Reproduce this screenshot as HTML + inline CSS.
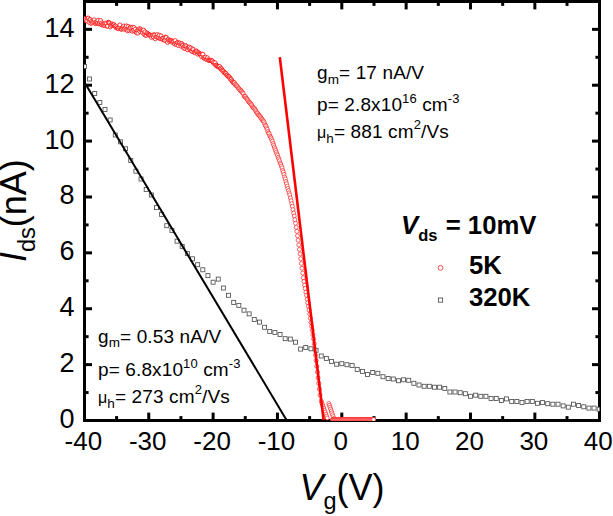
<!DOCTYPE html>
<html><head><meta charset="utf-8"><style>
html,body{margin:0;padding:0;background:#fff;overflow:hidden;}
svg{display:block;}
</style></head><body>
<svg width="613" height="516" viewBox="0 0 613 516">
<rect width="613" height="516" fill="#fff"/>
<g fill="none" stroke="#000" stroke-width="3">
<rect x="84.5" y="1.5" width="515" height="419"/>
<line x1="116.58" y1="420.5" x2="116.58" y2="416.1"/><line x1="116.58" y1="1.5" x2="116.58" y2="5.9"/><line x1="148.75" y1="420.5" x2="148.75" y2="412.6"/><line x1="148.75" y1="1.5" x2="148.75" y2="9.4"/><line x1="180.93" y1="420.5" x2="180.93" y2="416.1"/><line x1="180.93" y1="1.5" x2="180.93" y2="5.9"/><line x1="213.10" y1="420.5" x2="213.10" y2="412.6"/><line x1="213.10" y1="1.5" x2="213.10" y2="9.4"/><line x1="245.28" y1="420.5" x2="245.28" y2="416.1"/><line x1="245.28" y1="1.5" x2="245.28" y2="5.9"/><line x1="277.45" y1="420.5" x2="277.45" y2="412.6"/><line x1="277.45" y1="1.5" x2="277.45" y2="9.4"/><line x1="309.62" y1="420.5" x2="309.62" y2="416.1"/><line x1="309.62" y1="1.5" x2="309.62" y2="5.9"/><line x1="341.80" y1="420.5" x2="341.80" y2="412.6"/><line x1="341.80" y1="1.5" x2="341.80" y2="9.4"/><line x1="373.98" y1="420.5" x2="373.98" y2="416.1"/><line x1="373.98" y1="1.5" x2="373.98" y2="5.9"/><line x1="406.15" y1="420.5" x2="406.15" y2="412.6"/><line x1="406.15" y1="1.5" x2="406.15" y2="9.4"/><line x1="438.32" y1="420.5" x2="438.32" y2="416.1"/><line x1="438.32" y1="1.5" x2="438.32" y2="5.9"/><line x1="470.50" y1="420.5" x2="470.50" y2="412.6"/><line x1="470.50" y1="1.5" x2="470.50" y2="9.4"/><line x1="502.67" y1="420.5" x2="502.67" y2="416.1"/><line x1="502.67" y1="1.5" x2="502.67" y2="5.9"/><line x1="534.85" y1="420.5" x2="534.85" y2="412.6"/><line x1="534.85" y1="1.5" x2="534.85" y2="9.4"/><line x1="567.02" y1="420.5" x2="567.02" y2="416.1"/><line x1="567.02" y1="1.5" x2="567.02" y2="5.9"/><line x1="84.5" y1="392.56" x2="88.6" y2="392.56"/><line x1="599.5" y1="392.56" x2="595.4" y2="392.56"/><line x1="84.5" y1="364.62" x2="92.0" y2="364.62"/><line x1="599.5" y1="364.62" x2="592.0" y2="364.62"/><line x1="84.5" y1="336.68" x2="88.6" y2="336.68"/><line x1="599.5" y1="336.68" x2="595.4" y2="336.68"/><line x1="84.5" y1="308.74" x2="92.0" y2="308.74"/><line x1="599.5" y1="308.74" x2="592.0" y2="308.74"/><line x1="84.5" y1="280.80" x2="88.6" y2="280.80"/><line x1="599.5" y1="280.80" x2="595.4" y2="280.80"/><line x1="84.5" y1="252.86" x2="92.0" y2="252.86"/><line x1="599.5" y1="252.86" x2="592.0" y2="252.86"/><line x1="84.5" y1="224.92" x2="88.6" y2="224.92"/><line x1="599.5" y1="224.92" x2="595.4" y2="224.92"/><line x1="84.5" y1="196.98" x2="92.0" y2="196.98"/><line x1="599.5" y1="196.98" x2="592.0" y2="196.98"/><line x1="84.5" y1="169.04" x2="88.6" y2="169.04"/><line x1="599.5" y1="169.04" x2="595.4" y2="169.04"/><line x1="84.5" y1="141.10" x2="92.0" y2="141.10"/><line x1="599.5" y1="141.10" x2="592.0" y2="141.10"/><line x1="84.5" y1="113.16" x2="88.6" y2="113.16"/><line x1="599.5" y1="113.16" x2="595.4" y2="113.16"/><line x1="84.5" y1="85.22" x2="92.0" y2="85.22"/><line x1="599.5" y1="85.22" x2="592.0" y2="85.22"/><line x1="84.5" y1="57.28" x2="88.6" y2="57.28"/><line x1="599.5" y1="57.28" x2="595.4" y2="57.28"/><line x1="84.5" y1="29.34" x2="92.0" y2="29.34"/><line x1="599.5" y1="29.34" x2="592.0" y2="29.34"/>
</g>
<g font-family="'Liberation Sans', Arial, sans-serif" font-size="26" fill="#000">
<text x="83.40" y="449.5" text-anchor="middle">-40</text><text x="147.75" y="449.5" text-anchor="middle">-30</text><text x="212.10" y="449.5" text-anchor="middle">-20</text><text x="276.45" y="449.5" text-anchor="middle">-10</text><text x="340.80" y="449.5" text-anchor="middle">0</text><text x="405.15" y="449.5" text-anchor="middle">10</text><text x="469.50" y="449.5" text-anchor="middle">20</text><text x="533.85" y="449.5" text-anchor="middle">30</text><text x="598.20" y="449.5" text-anchor="middle">40</text><text x="74.5" y="427.90" text-anchor="end" font-size="27">0</text><text x="74.5" y="372.02" text-anchor="end" font-size="27">2</text><text x="74.5" y="316.14" text-anchor="end" font-size="27">4</text><text x="74.5" y="260.26" text-anchor="end" font-size="27">6</text><text x="74.5" y="204.38" text-anchor="end" font-size="27">8</text><text x="74.5" y="148.50" text-anchor="end" font-size="27">10</text><text x="74.5" y="92.62" text-anchor="end" font-size="27">12</text><text x="74.5" y="36.74" text-anchor="end" font-size="27">14</text>
</g>
<defs><clipPath id="pc"><rect x="84.1" y="1.5" width="515.4" height="419.5"/></clipPath></defs>
<g clip-path="url(#pc)">
<g fill="#fff" stroke="#f00" stroke-width="0.6"><circle cx="84.50" cy="18.49" r="2.0" stroke-width="0.75"/><circle cx="85.14" cy="20.14" r="2.0" stroke-width="0.75"/><circle cx="85.79" cy="19.39" r="2.0" stroke-width="0.75"/><circle cx="86.43" cy="20.68" r="2.0" stroke-width="0.75"/><circle cx="87.07" cy="20.91" r="2.0" stroke-width="0.75"/><circle cx="87.72" cy="18.23" r="2.0" stroke-width="0.75"/><circle cx="88.36" cy="18.09" r="2.0" stroke-width="0.75"/><circle cx="89.00" cy="22.33" r="2.0" stroke-width="0.75"/><circle cx="89.65" cy="19.56" r="2.0" stroke-width="0.75"/><circle cx="90.29" cy="19.55" r="2.0" stroke-width="0.75"/><circle cx="90.94" cy="23.48" r="2.0" stroke-width="0.75"/><circle cx="91.58" cy="20.97" r="2.0" stroke-width="0.75"/><circle cx="92.22" cy="22.93" r="2.0" stroke-width="0.75"/><circle cx="92.87" cy="21.24" r="2.0" stroke-width="0.75"/><circle cx="93.51" cy="22.18" r="2.0" stroke-width="0.75"/><circle cx="94.15" cy="19.86" r="2.0" stroke-width="0.75"/><circle cx="94.80" cy="22.40" r="2.0" stroke-width="0.75"/><circle cx="95.44" cy="23.68" r="2.0" stroke-width="0.75"/><circle cx="96.08" cy="22.08" r="2.0" stroke-width="0.75"/><circle cx="96.73" cy="23.29" r="2.0" stroke-width="0.75"/><circle cx="97.37" cy="23.06" r="2.0" stroke-width="0.75"/><circle cx="98.01" cy="20.15" r="2.0" stroke-width="0.75"/><circle cx="98.66" cy="23.74" r="2.0" stroke-width="0.75"/><circle cx="99.30" cy="23.02" r="2.0" stroke-width="0.75"/><circle cx="99.94" cy="21.69" r="2.0" stroke-width="0.75"/><circle cx="100.59" cy="20.46" r="2.0" stroke-width="0.75"/><circle cx="101.23" cy="24.75" r="2.0" stroke-width="0.75"/><circle cx="101.87" cy="22.91" r="2.0" stroke-width="0.75"/><circle cx="102.52" cy="24.26" r="2.0" stroke-width="0.75"/><circle cx="103.16" cy="25.18" r="2.0" stroke-width="0.75"/><circle cx="103.81" cy="24.48" r="2.0" stroke-width="0.75"/><circle cx="104.45" cy="25.63" r="2.0" stroke-width="0.75"/><circle cx="105.09" cy="23.12" r="2.0" stroke-width="0.75"/><circle cx="105.74" cy="25.27" r="2.0" stroke-width="0.75"/><circle cx="106.38" cy="23.61" r="2.0" stroke-width="0.75"/><circle cx="107.02" cy="26.19" r="2.0" stroke-width="0.75"/><circle cx="107.67" cy="26.02" r="2.0" stroke-width="0.75"/><circle cx="108.31" cy="22.24" r="2.0" stroke-width="0.75"/><circle cx="108.95" cy="22.55" r="2.0" stroke-width="0.75"/><circle cx="109.60" cy="23.07" r="2.0" stroke-width="0.75"/><circle cx="110.24" cy="26.94" r="2.0" stroke-width="0.75"/><circle cx="110.88" cy="24.41" r="2.0" stroke-width="0.75"/><circle cx="111.53" cy="25.48" r="2.0" stroke-width="0.75"/><circle cx="112.17" cy="23.98" r="2.0" stroke-width="0.75"/><circle cx="112.81" cy="25.13" r="2.0" stroke-width="0.75"/><circle cx="113.46" cy="24.64" r="2.0" stroke-width="0.75"/><circle cx="114.10" cy="24.61" r="2.0" stroke-width="0.75"/><circle cx="114.74" cy="25.92" r="2.0" stroke-width="0.75"/><circle cx="115.39" cy="26.06" r="2.0" stroke-width="0.75"/><circle cx="116.03" cy="27.80" r="2.0" stroke-width="0.75"/><circle cx="116.68" cy="26.84" r="2.0" stroke-width="0.75"/><circle cx="117.32" cy="28.21" r="2.0" stroke-width="0.75"/><circle cx="117.96" cy="27.99" r="2.0" stroke-width="0.75"/><circle cx="118.61" cy="28.81" r="2.0" stroke-width="0.75"/><circle cx="119.25" cy="27.35" r="2.0" stroke-width="0.75"/><circle cx="119.89" cy="24.96" r="2.0" stroke-width="0.75"/><circle cx="120.54" cy="28.59" r="2.0" stroke-width="0.75"/><circle cx="121.18" cy="29.25" r="2.0" stroke-width="0.75"/><circle cx="121.82" cy="29.09" r="2.0" stroke-width="0.75"/><circle cx="122.47" cy="27.56" r="2.0" stroke-width="0.75"/><circle cx="123.11" cy="28.42" r="2.0" stroke-width="0.75"/><circle cx="123.75" cy="26.05" r="2.0" stroke-width="0.75"/><circle cx="124.40" cy="29.30" r="2.0" stroke-width="0.75"/><circle cx="125.04" cy="28.15" r="2.0" stroke-width="0.75"/><circle cx="125.68" cy="26.85" r="2.0" stroke-width="0.75"/><circle cx="126.33" cy="25.88" r="2.0" stroke-width="0.75"/><circle cx="126.97" cy="29.98" r="2.0" stroke-width="0.75"/><circle cx="127.61" cy="30.80" r="2.0" stroke-width="0.75"/><circle cx="128.26" cy="26.44" r="2.0" stroke-width="0.75"/><circle cx="128.90" cy="30.14" r="2.0" stroke-width="0.75"/><circle cx="129.55" cy="28.33" r="2.0" stroke-width="0.75"/><circle cx="130.19" cy="27.18" r="2.0" stroke-width="0.75"/><circle cx="130.83" cy="28.04" r="2.0" stroke-width="0.75"/><circle cx="131.48" cy="30.55" r="2.0" stroke-width="0.75"/><circle cx="132.12" cy="31.22" r="2.0" stroke-width="0.75"/><circle cx="132.76" cy="27.22" r="2.0" stroke-width="0.75"/><circle cx="133.41" cy="30.21" r="2.0" stroke-width="0.75"/><circle cx="134.05" cy="27.50" r="2.0" stroke-width="0.75"/><circle cx="134.69" cy="31.02" r="2.0" stroke-width="0.75"/><circle cx="135.34" cy="29.22" r="2.0" stroke-width="0.75"/><circle cx="135.98" cy="32.11" r="2.0" stroke-width="0.75"/><circle cx="136.62" cy="32.75" r="2.0" stroke-width="0.75"/><circle cx="137.27" cy="30.52" r="2.0" stroke-width="0.75"/><circle cx="137.91" cy="33.13" r="2.0" stroke-width="0.75"/><circle cx="138.55" cy="29.83" r="2.0" stroke-width="0.75"/><circle cx="139.20" cy="28.81" r="2.0" stroke-width="0.75"/><circle cx="139.84" cy="31.56" r="2.0" stroke-width="0.75"/><circle cx="140.48" cy="28.93" r="2.0" stroke-width="0.75"/><circle cx="141.13" cy="29.99" r="2.0" stroke-width="0.75"/><circle cx="141.77" cy="31.27" r="2.0" stroke-width="0.75"/><circle cx="142.41" cy="32.51" r="2.0" stroke-width="0.75"/><circle cx="143.06" cy="30.46" r="2.0" stroke-width="0.75"/><circle cx="143.70" cy="30.12" r="2.0" stroke-width="0.75"/><circle cx="144.35" cy="34.48" r="2.0" stroke-width="0.75"/><circle cx="144.99" cy="31.93" r="2.0" stroke-width="0.75"/><circle cx="145.63" cy="35.39" r="2.0" stroke-width="0.75"/><circle cx="146.28" cy="35.30" r="2.0" stroke-width="0.75"/><circle cx="146.92" cy="32.94" r="2.0" stroke-width="0.75"/><circle cx="147.56" cy="33.58" r="2.0" stroke-width="0.75"/><circle cx="148.21" cy="34.10" r="2.0" stroke-width="0.75"/><circle cx="148.85" cy="34.95" r="2.0" stroke-width="0.75"/><circle cx="149.49" cy="34.94" r="2.0" stroke-width="0.75"/><circle cx="150.14" cy="34.98" r="2.0" stroke-width="0.75"/><circle cx="150.78" cy="35.52" r="2.0" stroke-width="0.75"/><circle cx="151.42" cy="37.35" r="2.0" stroke-width="0.75"/><circle cx="152.07" cy="35.41" r="2.0" stroke-width="0.75"/><circle cx="152.71" cy="35.25" r="2.0" stroke-width="0.75"/><circle cx="153.35" cy="36.91" r="2.0" stroke-width="0.75"/><circle cx="154.00" cy="34.69" r="2.0" stroke-width="0.75"/><circle cx="154.64" cy="35.19" r="2.0" stroke-width="0.75"/><circle cx="155.28" cy="38.77" r="2.0" stroke-width="0.75"/><circle cx="155.93" cy="36.68" r="2.0" stroke-width="0.75"/><circle cx="156.57" cy="37.01" r="2.0" stroke-width="0.75"/><circle cx="157.22" cy="34.51" r="2.0" stroke-width="0.75"/><circle cx="157.86" cy="36.72" r="2.0" stroke-width="0.75"/><circle cx="158.50" cy="37.74" r="2.0" stroke-width="0.75"/><circle cx="159.15" cy="35.13" r="2.0" stroke-width="0.75"/><circle cx="159.79" cy="38.30" r="2.0" stroke-width="0.75"/><circle cx="160.43" cy="38.57" r="2.0" stroke-width="0.75"/><circle cx="161.08" cy="35.90" r="2.0" stroke-width="0.75"/><circle cx="161.72" cy="38.93" r="2.0" stroke-width="0.75"/><circle cx="162.36" cy="38.32" r="2.0" stroke-width="0.75"/><circle cx="163.01" cy="39.58" r="2.0" stroke-width="0.75"/><circle cx="163.65" cy="38.13" r="2.0" stroke-width="0.75"/><circle cx="164.29" cy="40.10" r="2.0" stroke-width="0.75"/><circle cx="164.94" cy="40.44" r="2.0" stroke-width="0.75"/><circle cx="165.58" cy="37.06" r="2.0" stroke-width="0.75"/><circle cx="166.22" cy="37.45" r="2.0" stroke-width="0.75"/><circle cx="166.87" cy="40.76" r="2.0" stroke-width="0.75"/><circle cx="167.51" cy="42.43" r="2.0" stroke-width="0.75"/><circle cx="168.15" cy="39.11" r="2.0" stroke-width="0.75"/><circle cx="168.80" cy="40.37" r="2.0" stroke-width="0.75"/><circle cx="169.44" cy="41.29" r="2.0" stroke-width="0.75"/><circle cx="170.09" cy="40.16" r="2.0" stroke-width="0.75"/><circle cx="170.73" cy="40.62" r="2.0" stroke-width="0.75"/><circle cx="171.37" cy="40.60" r="2.0" stroke-width="0.75"/><circle cx="172.02" cy="41.11" r="2.0" stroke-width="0.75"/><circle cx="172.66" cy="42.48" r="2.0" stroke-width="0.75"/><circle cx="173.30" cy="41.24" r="2.0" stroke-width="0.75"/><circle cx="173.95" cy="41.86" r="2.0" stroke-width="0.75"/><circle cx="174.59" cy="44.07" r="2.0" stroke-width="0.75"/><circle cx="175.23" cy="40.58" r="2.0" stroke-width="0.75"/><circle cx="175.88" cy="43.53" r="2.0" stroke-width="0.75"/><circle cx="176.52" cy="44.59" r="2.0" stroke-width="0.75"/><circle cx="177.16" cy="42.70" r="2.0" stroke-width="0.75"/><circle cx="177.81" cy="42.50" r="2.0" stroke-width="0.75"/><circle cx="178.45" cy="45.64" r="2.0" stroke-width="0.75"/><circle cx="179.09" cy="43.05" r="2.0" stroke-width="0.75"/><circle cx="179.74" cy="43.07" r="2.0" stroke-width="0.75"/><circle cx="180.38" cy="44.59" r="2.0" stroke-width="0.75"/><circle cx="181.02" cy="46.18" r="2.0" stroke-width="0.75"/><circle cx="181.67" cy="43.47" r="2.0" stroke-width="0.75"/><circle cx="182.31" cy="44.85" r="2.0" stroke-width="0.75"/><circle cx="182.96" cy="45.19" r="2.0" stroke-width="0.75"/><circle cx="183.60" cy="47.96" r="2.0" stroke-width="0.75"/><circle cx="184.24" cy="46.26" r="2.0" stroke-width="0.75"/><circle cx="184.89" cy="48.63" r="2.0" stroke-width="0.75"/><circle cx="185.53" cy="45.49" r="2.0" stroke-width="0.75"/><circle cx="186.17" cy="46.60" r="2.0" stroke-width="0.75"/><circle cx="186.82" cy="48.41" r="2.0" stroke-width="0.75"/><circle cx="187.46" cy="49.80" r="2.0" stroke-width="0.75"/><circle cx="188.10" cy="48.00" r="2.0" stroke-width="0.75"/><circle cx="188.75" cy="47.23" r="2.0" stroke-width="0.75"/><circle cx="189.39" cy="47.04" r="2.0" stroke-width="0.75"/><circle cx="190.03" cy="49.20" r="2.0" stroke-width="0.75"/><circle cx="190.68" cy="47.96" r="2.0" stroke-width="0.75"/><circle cx="191.32" cy="50.98" r="2.0" stroke-width="0.75"/><circle cx="191.96" cy="51.38" r="2.0" stroke-width="0.75"/><circle cx="192.61" cy="48.86" r="2.0" stroke-width="0.75"/><circle cx="193.25" cy="49.64" r="2.0" stroke-width="0.75"/><circle cx="193.89" cy="52.22" r="2.0" stroke-width="0.75"/><circle cx="194.54" cy="51.87" r="2.0" stroke-width="0.75"/><circle cx="195.18" cy="52.89" r="2.0" stroke-width="0.75"/><circle cx="195.83" cy="51.37" r="2.0" stroke-width="0.75"/><circle cx="196.47" cy="50.88" r="2.0" stroke-width="0.75"/><circle cx="197.11" cy="51.89" r="2.0" stroke-width="0.75"/><circle cx="197.76" cy="54.19" r="2.0" stroke-width="0.75"/><circle cx="198.40" cy="52.54" r="2.0" stroke-width="0.75"/><circle cx="199.04" cy="53.19" r="2.0" stroke-width="0.75"/><circle cx="199.69" cy="53.81" r="2.0" stroke-width="0.75"/><circle cx="200.33" cy="54.18" r="2.0" stroke-width="0.75"/><circle cx="200.97" cy="54.50" r="2.0" stroke-width="0.75"/><circle cx="201.62" cy="56.65" r="2.0" stroke-width="0.75"/><circle cx="202.26" cy="54.34" r="2.0" stroke-width="0.75"/><circle cx="202.90" cy="54.20" r="2.0" stroke-width="0.75"/><circle cx="203.55" cy="57.71" r="2.0" stroke-width="0.75"/><circle cx="204.19" cy="57.83" r="2.0" stroke-width="0.75"/><circle cx="204.83" cy="58.51" r="2.0" stroke-width="0.75"/><circle cx="205.48" cy="57.11" r="2.0" stroke-width="0.75"/><circle cx="206.12" cy="59.15" r="2.0" stroke-width="0.75"/><circle cx="206.76" cy="59.49" r="2.0" stroke-width="0.75"/><circle cx="207.41" cy="57.80" r="2.0" stroke-width="0.75"/><circle cx="208.05" cy="59.78" r="2.0" stroke-width="0.75"/><circle cx="208.70" cy="60.46" r="2.0" stroke-width="0.75"/><circle cx="209.34" cy="60.39" r="2.0" stroke-width="0.75"/><circle cx="209.98" cy="60.42" r="2.0" stroke-width="0.75"/><circle cx="210.63" cy="60.24" r="2.0" stroke-width="0.75"/><circle cx="211.27" cy="60.82" r="2.0" stroke-width="0.75"/><circle cx="211.91" cy="60.97" r="2.0" stroke-width="0.75"/><circle cx="212.56" cy="61.02" r="2.0" stroke-width="0.75"/><circle cx="213.20" cy="62.77" r="2.0" stroke-width="0.75"/><circle cx="213.84" cy="62.47" r="2.0" stroke-width="0.75"/><circle cx="214.49" cy="64.15" r="2.0" stroke-width="0.75"/><circle cx="215.13" cy="62.81" r="2.0" stroke-width="0.75"/><circle cx="215.77" cy="65.19" r="2.0" stroke-width="0.75"/><circle cx="216.42" cy="65.15" r="2.0" stroke-width="0.75"/><circle cx="217.06" cy="66.06" r="2.0" stroke-width="0.75"/><circle cx="217.70" cy="66.41" r="2.0" stroke-width="0.75"/><circle cx="218.35" cy="66.85" r="2.0" stroke-width="0.75"/><circle cx="218.99" cy="66.86" r="2.0" stroke-width="0.75"/><circle cx="219.63" cy="66.46" r="2.0" stroke-width="0.75"/><circle cx="220.28" cy="68.48" r="2.0" stroke-width="0.75"/><circle cx="220.92" cy="68.12" r="2.0" stroke-width="0.75"/><circle cx="221.57" cy="69.02" r="2.0" stroke-width="0.75"/><circle cx="222.21" cy="70.29" r="2.0" stroke-width="0.75"/><circle cx="222.85" cy="70.72" r="2.0" stroke-width="0.75"/><circle cx="223.50" cy="71.21" r="2.0" stroke-width="0.75"/><circle cx="224.14" cy="72.66" r="2.0" stroke-width="0.75"/><circle cx="224.78" cy="72.83" r="2.0" stroke-width="0.75"/><circle cx="225.43" cy="73.11" r="2.0" stroke-width="0.75"/><circle cx="226.07" cy="73.65" r="2.0" stroke-width="0.75"/><circle cx="226.71" cy="75.16" r="2.0" stroke-width="0.75"/><circle cx="227.36" cy="75.28" r="2.0" stroke-width="0.75"/><circle cx="228.00" cy="76.37" r="2.0" stroke-width="0.75"/><circle cx="228.64" cy="76.43" r="2.0" stroke-width="0.75"/><circle cx="229.29" cy="76.95" r="2.0" stroke-width="0.75"/><circle cx="229.93" cy="78.17" r="2.0" stroke-width="0.75"/><circle cx="230.57" cy="79.32" r="2.0" stroke-width="0.75"/><circle cx="231.22" cy="79.17" r="2.0" stroke-width="0.75"/><circle cx="231.86" cy="80.80" r="2.0" stroke-width="0.75"/><circle cx="232.50" cy="81.73" r="2.0" stroke-width="0.75"/><circle cx="233.15" cy="82.33" r="2.0" stroke-width="0.75"/><circle cx="233.79" cy="83.11" r="2.0" stroke-width="0.75"/><circle cx="234.44" cy="82.72" r="2.0" stroke-width="0.75"/><circle cx="235.08" cy="84.34" r="2.0"/><circle cx="235.72" cy="85.42" r="2.0"/><circle cx="236.37" cy="85.04" r="2.0"/><circle cx="237.01" cy="86.10" r="2.0"/><circle cx="237.65" cy="86.86" r="2.0"/><circle cx="238.30" cy="87.97" r="2.0"/><circle cx="238.94" cy="88.58" r="2.0"/><circle cx="239.58" cy="89.40" r="2.0"/><circle cx="240.23" cy="90.58" r="2.0"/><circle cx="240.87" cy="90.33" r="2.0"/><circle cx="241.51" cy="91.27" r="2.0"/><circle cx="242.16" cy="92.23" r="2.0"/><circle cx="242.80" cy="93.08" r="2.0"/><circle cx="243.44" cy="93.86" r="2.0"/><circle cx="244.09" cy="95.99" r="2.0"/><circle cx="244.73" cy="96.68" r="2.0"/><circle cx="245.37" cy="96.47" r="2.0"/><circle cx="246.02" cy="97.91" r="2.0"/><circle cx="246.66" cy="98.51" r="2.0"/><circle cx="247.31" cy="99.37" r="2.0"/><circle cx="247.95" cy="100.28" r="2.0"/><circle cx="248.59" cy="101.55" r="2.0"/><circle cx="249.24" cy="102.33" r="2.0"/><circle cx="249.88" cy="102.87" r="2.0"/><circle cx="250.52" cy="103.49" r="2.0"/><circle cx="251.17" cy="104.55" r="2.0"/><circle cx="251.81" cy="105.12" r="2.0"/><circle cx="252.45" cy="106.58" r="2.0"/><circle cx="253.10" cy="107.67" r="2.0"/><circle cx="253.74" cy="108.06" r="2.0"/><circle cx="254.38" cy="108.50" r="2.0"/><circle cx="255.03" cy="109.50" r="2.0"/><circle cx="255.67" cy="110.63" r="2.0"/><circle cx="256.31" cy="111.81" r="2.0"/><circle cx="256.96" cy="112.92" r="2.0"/><circle cx="257.60" cy="113.22" r="2.0"/><circle cx="258.24" cy="114.67" r="2.0"/><circle cx="258.89" cy="115.28" r="2.0"/><circle cx="259.53" cy="115.87" r="2.0"/><circle cx="260.18" cy="116.65" r="2.0"/><circle cx="260.82" cy="117.68" r="2.0"/><circle cx="261.46" cy="118.83" r="2.0"/><circle cx="262.11" cy="119.29" r="2.0"/><circle cx="262.75" cy="120.54" r="2.0"/><circle cx="263.39" cy="121.07" r="2.0"/><circle cx="264.04" cy="122.02" r="2.0"/><circle cx="264.68" cy="123.86" r="2.0"/><circle cx="265.32" cy="125.51" r="2.0"/><circle cx="265.97" cy="126.07" r="2.0"/><circle cx="266.61" cy="128.00" r="2.0"/><circle cx="267.25" cy="129.44" r="2.0"/><circle cx="267.90" cy="131.51" r="2.0"/><circle cx="268.54" cy="133.02" r="2.0"/><circle cx="269.18" cy="133.67" r="2.0"/><circle cx="269.83" cy="135.83" r="2.0"/><circle cx="270.47" cy="136.88" r="2.0"/><circle cx="271.11" cy="138.00" r="2.0"/><circle cx="271.76" cy="139.69" r="2.0"/><circle cx="272.40" cy="141.25" r="2.0"/><circle cx="273.05" cy="143.43" r="2.0"/><circle cx="273.69" cy="145.11" r="2.0"/><circle cx="274.33" cy="147.01" r="2.0"/><circle cx="274.98" cy="148.72" r="2.0"/><circle cx="275.62" cy="150.41" r="2.0"/><circle cx="276.26" cy="152.22" r="2.0"/><circle cx="276.91" cy="153.88" r="2.0"/><circle cx="277.55" cy="155.38" r="2.0"/><circle cx="278.19" cy="157.46" r="2.0"/><circle cx="278.84" cy="158.89" r="2.0"/><circle cx="279.48" cy="160.76" r="2.0"/><circle cx="280.12" cy="162.93" r="2.0"/><circle cx="280.77" cy="164.27" r="2.0"/><circle cx="281.41" cy="166.09" r="2.0"/><circle cx="282.05" cy="167.88" r="2.0"/><circle cx="282.70" cy="170.41" r="2.0"/><circle cx="283.34" cy="172.21" r="2.0"/><circle cx="283.98" cy="174.35" r="2.0"/><circle cx="284.63" cy="177.07" r="2.0"/><circle cx="285.27" cy="178.86" r="2.0"/><circle cx="285.92" cy="181.52" r="2.0"/><circle cx="286.56" cy="183.69" r="2.0"/><circle cx="287.20" cy="186.09" r="2.0"/><circle cx="287.85" cy="188.46" r="2.0"/><circle cx="288.49" cy="190.54" r="2.0"/><circle cx="289.13" cy="192.98" r="2.0"/><circle cx="289.78" cy="194.82" r="2.0"/><circle cx="290.42" cy="197.96" r="2.0"/><circle cx="291.06" cy="200.73" r="2.0"/><circle cx="291.71" cy="203.77" r="2.0"/><circle cx="292.35" cy="206.32" r="2.0"/><circle cx="292.99" cy="209.62" r="2.0"/><circle cx="293.64" cy="213.17" r="2.0"/><circle cx="294.28" cy="216.08" r="2.0"/><circle cx="294.92" cy="219.68" r="2.0"/><circle cx="295.57" cy="223.26" r="2.0"/><circle cx="296.21" cy="227.33" r="2.0"/><circle cx="296.85" cy="231.39" r="2.0"/><circle cx="297.50" cy="235.77" r="2.0"/><circle cx="298.14" cy="240.22" r="2.0"/><circle cx="298.79" cy="244.86" r="2.0"/><circle cx="299.43" cy="249.37" r="2.0"/><circle cx="300.07" cy="253.94" r="2.0"/><circle cx="300.72" cy="258.71" r="2.0"/><circle cx="301.36" cy="263.51" r="2.0"/><circle cx="302.00" cy="268.27" r="2.0"/><circle cx="302.65" cy="273.09" r="2.0"/><circle cx="303.29" cy="277.68" r="2.0"/><circle cx="303.93" cy="281.47" r="2.0"/><circle cx="304.58" cy="285.27" r="2.0"/><circle cx="305.22" cy="288.46" r="2.0"/><circle cx="305.86" cy="292.18" r="2.0"/><circle cx="306.51" cy="295.35" r="2.0"/><circle cx="307.15" cy="299.19" r="2.0"/><circle cx="307.79" cy="302.75" r="2.0"/><circle cx="308.44" cy="306.22" r="2.0"/><circle cx="309.08" cy="310.07" r="2.0"/><circle cx="309.72" cy="314.13" r="2.0"/><circle cx="310.37" cy="318.31" r="2.0"/><circle cx="311.01" cy="322.55" r="2.0"/><circle cx="311.66" cy="326.18" r="2.0"/><circle cx="312.30" cy="330.23" r="2.0"/><circle cx="312.94" cy="334.71" r="2.0"/><circle cx="313.59" cy="338.89" r="2.0"/><circle cx="314.23" cy="343.80" r="2.0"/><circle cx="314.87" cy="349.43" r="2.0"/><circle cx="315.52" cy="355.28" r="2.0"/><circle cx="316.16" cy="360.64" r="2.0"/><circle cx="316.80" cy="366.36" r="2.0"/><circle cx="317.45" cy="372.00" r="2.0"/><circle cx="318.09" cy="377.91" r="2.0"/><circle cx="318.73" cy="383.42" r="2.0"/><circle cx="319.38" cy="389.05" r="2.0"/><circle cx="320.02" cy="395.01" r="2.0"/><circle cx="321.20" cy="401.00" r="2.0"/><circle cx="321.87" cy="402.89" r="2.0"/><circle cx="322.53" cy="404.78" r="2.0"/><circle cx="323.20" cy="406.67" r="2.0"/><circle cx="323.87" cy="408.56" r="2.0"/><circle cx="324.53" cy="410.44" r="2.0"/><circle cx="325.20" cy="412.33" r="2.0"/><circle cx="325.87" cy="414.22" r="2.0"/><circle cx="326.53" cy="416.11" r="2.0"/><circle cx="327.20" cy="418.00" r="2.0"/><circle cx="328.80" cy="403.50" r="2.0"/><circle cx="329.43" cy="405.38" r="2.0"/><circle cx="330.05" cy="407.25" r="2.0"/><circle cx="330.68" cy="409.12" r="2.0"/><circle cx="331.30" cy="411.00" r="2.0"/><circle cx="331.93" cy="412.88" r="2.0"/><circle cx="332.55" cy="414.75" r="2.0"/><circle cx="333.18" cy="416.62" r="2.0"/><circle cx="333.80" cy="418.50" r="2.0"/><circle cx="332.50" cy="419.50" r="2.0"/><circle cx="333.14" cy="419.50" r="2.0"/><circle cx="333.79" cy="419.50" r="2.0"/><circle cx="334.43" cy="419.50" r="2.0"/><circle cx="335.07" cy="419.50" r="2.0"/><circle cx="335.72" cy="419.50" r="2.0"/><circle cx="336.36" cy="419.50" r="2.0"/><circle cx="337.00" cy="419.50" r="2.0"/><circle cx="337.65" cy="419.50" r="2.0"/><circle cx="338.29" cy="419.50" r="2.0"/><circle cx="338.94" cy="419.50" r="2.0"/><circle cx="339.58" cy="419.50" r="2.0"/><circle cx="340.22" cy="419.50" r="2.0"/><circle cx="340.87" cy="419.50" r="2.0"/><circle cx="341.51" cy="419.50" r="2.0"/><circle cx="342.15" cy="419.50" r="2.0"/><circle cx="342.80" cy="419.50" r="2.0"/><circle cx="343.44" cy="419.50" r="2.0"/><circle cx="344.08" cy="419.50" r="2.0"/><circle cx="344.73" cy="419.50" r="2.0"/><circle cx="345.37" cy="419.50" r="2.0"/><circle cx="346.01" cy="419.50" r="2.0"/><circle cx="346.66" cy="419.50" r="2.0"/><circle cx="347.30" cy="419.50" r="2.0"/><circle cx="347.94" cy="419.50" r="2.0"/><circle cx="348.59" cy="419.50" r="2.0"/><circle cx="349.23" cy="419.50" r="2.0"/><circle cx="349.87" cy="419.50" r="2.0"/><circle cx="350.52" cy="419.50" r="2.0"/><circle cx="351.16" cy="419.50" r="2.0"/><circle cx="351.81" cy="419.50" r="2.0"/><circle cx="352.45" cy="419.50" r="2.0"/><circle cx="353.09" cy="419.50" r="2.0"/><circle cx="353.74" cy="419.50" r="2.0"/><circle cx="354.38" cy="419.50" r="2.0"/><circle cx="355.02" cy="419.50" r="2.0"/><circle cx="355.67" cy="419.50" r="2.0"/><circle cx="356.31" cy="419.50" r="2.0"/><circle cx="356.95" cy="419.50" r="2.0"/><circle cx="357.60" cy="419.50" r="2.0"/><circle cx="358.24" cy="419.50" r="2.0"/><circle cx="358.88" cy="419.50" r="2.0"/><circle cx="359.53" cy="419.50" r="2.0"/><circle cx="360.17" cy="419.50" r="2.0"/><circle cx="360.81" cy="419.50" r="2.0"/><circle cx="361.46" cy="419.50" r="2.0"/><circle cx="362.10" cy="419.50" r="2.0"/><circle cx="362.74" cy="419.50" r="2.0"/><circle cx="363.39" cy="419.50" r="2.0"/><circle cx="364.03" cy="419.50" r="2.0"/><circle cx="364.68" cy="419.50" r="2.0"/><circle cx="365.32" cy="419.50" r="2.0"/><circle cx="365.96" cy="419.50" r="2.0"/><circle cx="366.61" cy="419.50" r="2.0"/><circle cx="367.25" cy="419.50" r="2.0"/><circle cx="367.89" cy="419.50" r="2.0"/><circle cx="368.54" cy="419.50" r="2.0"/><circle cx="369.18" cy="419.50" r="2.0"/><circle cx="369.82" cy="419.50" r="2.0"/><circle cx="370.47" cy="419.50" r="2.0"/><circle cx="371.11" cy="419.50" r="2.0"/><circle cx="371.75" cy="419.50" r="2.0"/><circle cx="372.40" cy="419.50" r="2.0"/><circle cx="373.04" cy="419.50" r="2.0"/><circle cx="373.68" cy="419.50" r="2.0"/></g>
<g fill="#fff" stroke="#505050" stroke-width="0.85"><rect x="82.40" y="64.50" width="4.0" height="4.0"/><rect x="87.55" y="77.00" width="4.0" height="4.0"/><rect x="92.70" y="91.50" width="4.0" height="4.0"/><rect x="97.84" y="100.50" width="4.0" height="4.0"/><rect x="102.99" y="107.50" width="4.0" height="4.0"/><rect x="108.14" y="118.00" width="4.0" height="4.0"/><rect x="113.29" y="133.00" width="4.0" height="4.0"/><rect x="118.44" y="139.80" width="4.0" height="4.0"/><rect x="123.58" y="146.80" width="4.0" height="4.0"/><rect x="128.73" y="158.40" width="4.0" height="4.0"/><rect x="133.88" y="169.20" width="4.0" height="4.0"/><rect x="139.03" y="177.00" width="4.0" height="4.0"/><rect x="144.18" y="187.50" width="4.0" height="4.0"/><rect x="149.32" y="193.00" width="4.0" height="4.0"/><rect x="154.47" y="205.60" width="4.0" height="4.0"/><rect x="159.62" y="212.40" width="4.0" height="4.0"/><rect x="164.77" y="223.70" width="4.0" height="4.0"/><rect x="169.92" y="228.40" width="4.0" height="4.0"/><rect x="175.06" y="239.20" width="4.0" height="4.0"/><rect x="180.21" y="244.40" width="4.0" height="4.0"/><rect x="185.36" y="251.60" width="4.0" height="4.0"/><rect x="190.51" y="256.80" width="4.0" height="4.0"/><rect x="195.66" y="262.70" width="4.0" height="4.0"/><rect x="200.80" y="267.80" width="4.0" height="4.0"/><rect x="205.95" y="273.60" width="4.0" height="4.0"/><rect x="211.10" y="280.20" width="4.0" height="4.0"/><rect x="216.25" y="277.10" width="4.0" height="4.0"/><rect x="221.40" y="286.00" width="4.0" height="4.0"/><rect x="226.54" y="293.30" width="4.0" height="4.0"/><rect x="231.69" y="300.40" width="4.0" height="4.0"/><rect x="236.84" y="303.50" width="4.0" height="4.0"/><rect x="241.99" y="308.20" width="4.0" height="4.0"/><rect x="247.14" y="311.90" width="4.0" height="4.0"/><rect x="252.28" y="317.50" width="4.0" height="4.0"/><rect x="257.43" y="320.10" width="4.0" height="4.0"/><rect x="262.58" y="325.30" width="4.0" height="4.0"/><rect x="267.73" y="329.40" width="4.0" height="4.0"/><rect x="272.88" y="330.50" width="4.0" height="4.0"/><rect x="278.02" y="332.50" width="4.0" height="4.0"/><rect x="283.17" y="336.70" width="4.0" height="4.0"/><rect x="288.32" y="337.10" width="4.0" height="4.0"/><rect x="293.47" y="340.20" width="4.0" height="4.0"/><rect x="298.62" y="347.10" width="4.0" height="4.0"/><rect x="303.76" y="345.50" width="4.0" height="4.0"/><rect x="308.91" y="346.80" width="4.0" height="4.0"/><rect x="314.06" y="348.30" width="4.0" height="4.0"/><rect x="319.21" y="354.00" width="4.0" height="4.0"/><rect x="324.36" y="356.40" width="4.0" height="4.0"/><rect x="329.50" y="359.50" width="4.0" height="4.0"/><rect x="334.65" y="362.20" width="4.0" height="4.0"/><rect x="339.80" y="361.70" width="4.0" height="4.0"/><rect x="344.95" y="362.70" width="4.0" height="4.0"/><rect x="350.10" y="363.50" width="4.0" height="4.0"/><rect x="355.24" y="367.40" width="4.0" height="4.0"/><rect x="360.39" y="369.40" width="4.0" height="4.0"/><rect x="365.54" y="372.50" width="4.0" height="4.0"/><rect x="370.69" y="370.50" width="4.0" height="4.0"/><rect x="375.84" y="371.30" width="4.0" height="4.0"/><rect x="380.98" y="374.70" width="4.0" height="4.0"/><rect x="386.13" y="376.50" width="4.0" height="4.0"/><rect x="391.28" y="377.00" width="4.0" height="4.0"/><rect x="396.43" y="378.70" width="4.0" height="4.0"/><rect x="401.58" y="377.80" width="4.0" height="4.0"/><rect x="406.72" y="378.30" width="4.0" height="4.0"/><rect x="411.87" y="381.30" width="4.0" height="4.0"/><rect x="417.02" y="383.00" width="4.0" height="4.0"/><rect x="422.17" y="384.30" width="4.0" height="4.0"/><rect x="427.32" y="384.30" width="4.0" height="4.0"/><rect x="432.46" y="385.20" width="4.0" height="4.0"/><rect x="437.61" y="385.20" width="4.0" height="4.0"/><rect x="442.76" y="386.50" width="4.0" height="4.0"/><rect x="447.91" y="390.00" width="4.0" height="4.0"/><rect x="453.06" y="390.00" width="4.0" height="4.0"/><rect x="458.20" y="390.70" width="4.0" height="4.0"/><rect x="463.35" y="391.70" width="4.0" height="4.0"/><rect x="468.50" y="394.30" width="4.0" height="4.0"/><rect x="473.65" y="393.20" width="4.0" height="4.0"/><rect x="478.80" y="394.30" width="4.0" height="4.0"/><rect x="483.94" y="394.30" width="4.0" height="4.0"/><rect x="489.09" y="396.50" width="4.0" height="4.0"/><rect x="494.24" y="396.50" width="4.0" height="4.0"/><rect x="499.39" y="398.50" width="4.0" height="4.0"/><rect x="504.54" y="396.90" width="4.0" height="4.0"/><rect x="509.68" y="399.50" width="4.0" height="4.0"/><rect x="514.83" y="399.50" width="4.0" height="4.0"/><rect x="519.98" y="400.40" width="4.0" height="4.0"/><rect x="525.13" y="399.50" width="4.0" height="4.0"/><rect x="530.28" y="399.40" width="4.0" height="4.0"/><rect x="535.42" y="401.30" width="4.0" height="4.0"/><rect x="540.57" y="400.60" width="4.0" height="4.0"/><rect x="545.72" y="401.70" width="4.0" height="4.0"/><rect x="550.87" y="402.20" width="4.0" height="4.0"/><rect x="556.02" y="402.20" width="4.0" height="4.0"/><rect x="561.16" y="403.90" width="4.0" height="4.0"/><rect x="566.31" y="405.20" width="4.0" height="4.0"/><rect x="571.46" y="402.20" width="4.0" height="4.0"/><rect x="576.61" y="403.50" width="4.0" height="4.0"/><rect x="581.76" y="404.80" width="4.0" height="4.0"/><rect x="586.90" y="406.10" width="4.0" height="4.0"/><rect x="592.05" y="406.10" width="4.0" height="4.0"/><rect x="597.20" y="407.20" width="4.0" height="4.0"/></g>
</g>
<line x1="279.8" y1="57.1" x2="323.6" y2="420" stroke="#f00" stroke-width="2.6"/>
<line x1="85.5" y1="84.0" x2="286.2" y2="419.5" stroke="#000" stroke-width="2"/>

<g font-family="'Liberation Sans', Arial, sans-serif" font-size="19" fill="#000" letter-spacing="0.12">
<text x="317" y="78.9">g<tspan font-size="13.5" dy="4.6">m</tspan><tspan dy="-4.6">= 17 nA/V</tspan></text>
<text x="317" y="110.8">p= 2.8x10<tspan font-size="13" dy="-8.3">16</tspan><tspan dy="8.3"> cm</tspan><tspan font-size="13" dy="-8.3">-3</tspan></text>
<text x="317" y="137.6"><tspan font-size="16">&#956;</tspan><tspan font-size="13.5" dy="5.8">h</tspan><tspan dy="-5.8">= 881 cm</tspan><tspan font-size="13" dy="-8.3">2</tspan><tspan dy="8.3">/Vs</tspan></text>
<text x="98" y="342.6">g<tspan font-size="13.5" dy="4.6">m</tspan><tspan dy="-4.6">= 0.53 nA/V</tspan></text>
<text x="98" y="375.9">p= 6.8x10<tspan font-size="13" dy="-8.3">10</tspan><tspan dy="8.3"> cm</tspan><tspan font-size="13" dy="-8.3">-3</tspan></text>
<text x="98" y="402.6"><tspan font-size="16">&#956;</tspan><tspan font-size="13.5" dy="5.8">h</tspan><tspan dy="-5.8">= 273 cm</tspan><tspan font-size="13" dy="-8.3">2</tspan><tspan dy="8.3">/Vs</tspan></text>
</g>

<g font-family="'Liberation Sans', Arial, sans-serif" font-weight="bold" font-size="25.7" fill="#000">
<text x="401" y="233.6"><tspan font-style="italic">V</tspan><tspan font-size="16.5" dy="7.1">ds</tspan><tspan dy="-7.1" dx="1.2"> = 10mV</tspan></text>
<text x="469" y="274.2">5K</text>
<text x="469" y="305.7">320K</text>
</g>
<circle cx="440.5" cy="267.8" r="2.4" fill="none" stroke="#f22" stroke-width="0.8"/>
<rect x="438.4" y="298" width="4.2" height="4.2" fill="none" stroke="#555" stroke-width="0.9"/>

<g font-family="'Liberation Sans', Arial, sans-serif" font-size="36" fill="#000">
<text x="299.5" y="500"><tspan font-style="italic">V</tspan><tspan font-size="23.5" dy="9.2">g</tspan><tspan dy="-9.2">(V)</tspan></text>
<text transform="translate(25.8,262) rotate(-90)"><tspan font-style="italic">I</tspan><tspan font-size="23.5" dy="9.2">ds</tspan><tspan dy="-9.2">(nA)</tspan></text>
</g>
</svg>
</body></html>
